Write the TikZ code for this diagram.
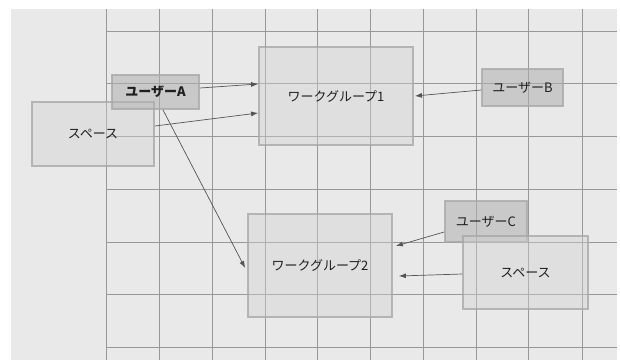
\documentclass[tikz,border=0pt]{standalone}
\usepackage{fontspec}
\newfontfamily\jp{Noto Sans CJK JP}
\usetikzlibrary{arrows.meta,calc}
\definecolor{bgc}{HTML}{E9E9E9}
\definecolor{gridc}{HTML}{989898}
\definecolor{userfill}{HTML}{B0B0B0}
\definecolor{boxfill}{HTML}{D2D2D2}
\definecolor{edgec}{HTML}{A8A8A8}
\definecolor{arrc}{HTML}{555555}
\definecolor{txt}{HTML}{1E1E1E}
\tikzset{
  gridline/.style={draw=gridc,line width=1pt},
  userbox/.style={rectangle,draw=edgec,line width=1.8pt,fill=userfill,fill opacity=0.55,draw opacity=0.8,text opacity=1,text=txt,font=\jp\fontsize{13}{15}\selectfont,inner sep=0pt},
  groupbox/.style={rectangle,draw=edgec,line width=1.8pt,fill=boxfill,fill opacity=0.4,draw opacity=0.8,text opacity=1,text=txt,font=\jp\fontsize{13}{15}\selectfont,inner sep=0pt},
  conn/.style={draw=arrc,line width=0.7pt,-{Latex[length=7pt,width=5pt]}}
}
\begin{document}
\begin{tikzpicture}[x=1pt,y=-1pt]
\useasboundingbox (0,0) rectangle (620,360);
\fill[white] (0,0) rectangle (620,360);
\fill[bgc] (11,9) rectangle (617,360);
% grid
\foreach \gx in {106,159,212,265,317,370,423,476,528,582}
  \draw[gridline] (\gx,9) -- (\gx,360);
\foreach \gy in {31,83,136,189,242,294,347}
  \draw[gridline] (106,\gy) -- (617,\gy);
% nodes
\node[groupbox,minimum width=154pt,minimum height=98pt] (wg1) at (336,96) {ワークグループ1};
\node[groupbox,minimum width=144pt,minimum height=103pt] (wg2) at (320,265.5) {ワークグループ2};
\node[groupbox,minimum width=122pt,minimum height=64pt] (spL) at (93,134) {スペース};
\node[userbox,minimum width=87pt,minimum height=34pt] (uA) at (155.5,92) {\bfseries ユーザーA};
\node[userbox,minimum width=81pt,minimum height=37pt] (uB) at (522.5,87.5) {ユーザーB};
\node[userbox,minimum width=82pt,minimum height=41pt] (uC) at (486,221.5) {ユーザーC};
\node[groupbox,minimum width=125pt,minimum height=73pt] (spR) at (525.5,272.5) {スペース};
% connectors
\draw[conn] ($(uA.east)+(0,-4)$) -- ($(wg1.west)+(0,-12)$);
\draw[conn] ($(spL.east)+(0,-8)$) -- ($(wg1.west)+(0,17)$);
\draw[conn] ($(uA.south)+(7.5,0)$) -- ($(wg2.west)+(-2,2.5)$);
\draw[conn] ($(uB.west)+(0,2.5)$) -- ($(wg1.east)+(1,0)$);
\draw[conn] ($(uC.west)+(0,10.5)$) -- ($(wg2.east)+(3,-19.5)$);
\draw[conn] ($(spR.west)+(0,1.5)$) -- ($(wg2.east)+(6,10.5)$);
\end{tikzpicture}
\end{document}
